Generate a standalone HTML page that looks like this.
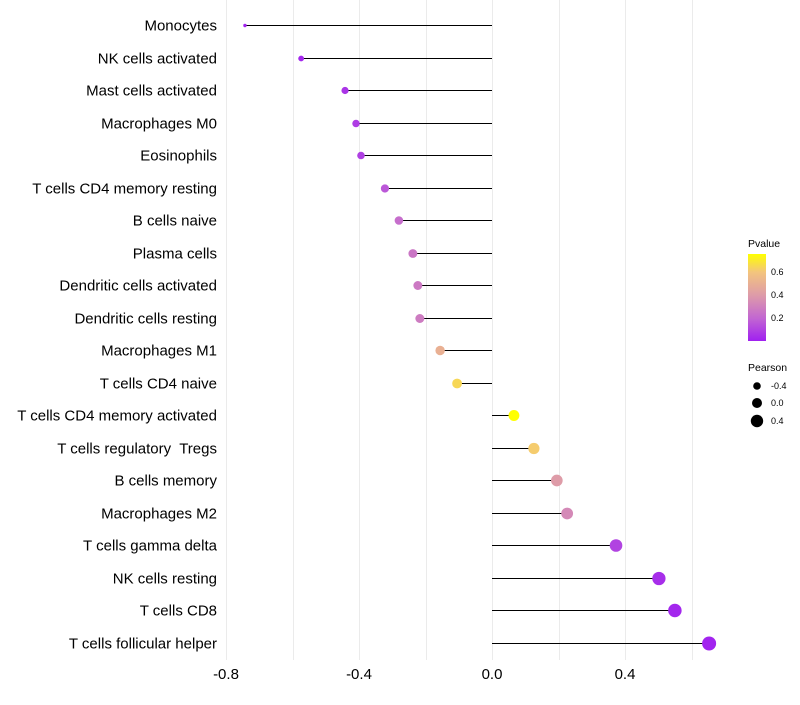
<!DOCTYPE html>
<html><head><meta charset="utf-8"><style>
body{margin:0;background:#fff;font-family:"Liberation Sans",sans-serif}
text{white-space:pre}
</style></head><body>
<svg id="chart" width="800" height="700" xmlns="http://www.w3.org/2000/svg" font-family="Liberation Sans, sans-serif">
<defs><linearGradient id="pg" x1="0" y1="1" x2="0" y2="0">
<stop offset="0" stop-color="#A020F0"/><stop offset="0.26" stop-color="#C266D2"/><stop offset="0.53" stop-color="#DE9CA8"/><stop offset="0.79" stop-color="#F3C47E"/><stop offset="1" stop-color="#FFFF00"/></linearGradient></defs>
<g id="grid"></g><g id="marks"></g><g id="ylabels"></g><g id="xlabels"></g>
<g font-size="10">
<text x="748" y="247" font-size="10.5">Pvalue</text>
<rect x="748" y="254" width="18" height="87" fill="url(#pg)"/>
<text x="771" y="275" font-size="9">0.6</text><text x="771" y="298" font-size="9">0.4</text><text x="771" y="321" font-size="9">0.2</text>
<text x="748" y="371" font-size="10.5">Pearson</text>
<circle cx="757" cy="386" r="3.8" fill="#000"/><text x="771" y="389" font-size="9">-0.4</text>
<circle cx="757" cy="403" r="5" fill="#000"/><text x="771" y="406" font-size="9">0.0</text>
<circle cx="757" cy="421" r="6.2" fill="#000"/><text x="771" y="424" font-size="9">0.4</text>
</g>
</svg>
<script>
const categories=["Monocytes","NK cells activated","Mast cells activated","Macrophages M0","Eosinophils","T cells CD4 memory resting","B cells naive","Plasma cells","Dendritic cells activated","Dendritic cells resting","Macrophages M1","T cells CD4 naive","T cells CD4 memory activated","T cells regulatory  Tregs","B cells memory","Macrophages M2","T cells gamma delta","NK cells resting","T cells CD8","T cells follicular helper"];
const pearson=[-0.743,-0.574,-0.442,-0.409,-0.394,-0.322,-0.280,-0.238,-0.223,-0.217,-0.156,-0.105,0.066,0.126,0.195,0.226,0.373,0.502,0.550,0.653];
const pvalues=[0.01,0.02,0.06,0.08,0.09,0.16,0.23,0.26,0.27,0.28,0.50,0.65,0.76,0.62,0.40,0.33,0.10,0.04,0.02,0.01];
const xTicks=[-0.8,-0.4,0.0,0.4];
const xMinor=[-0.6,-0.2,0.2,0.6];
const NS="http://www.w3.org/2000/svg";
const x=v=>492+v*332.5;
const y=i=>Math.round(25+i*32.5)+0.5;
const stops=[[0,[160,32,240]],[0.2,[194,102,210]],[0.4,[222,156,168]],[0.6,[243,196,126]],[0.757,[255,255,0]]];
function col(p){for(let k=1;k<stops.length;k++){if(p<=stops[k][0]||k==stops.length-1){const a=stops[k-1],b=stops[k];let t=(p-a[0])/(b[0]-a[0]);t=Math.max(0,Math.min(1,t));return"rgb("+a[1].map((c,j)=>Math.round(c+(b[1][j]-c)*t)).join(",")+")";}}}
const rad=v=>Math.sqrt(Math.max(1,2.9+33*(v+0.743)));
function mk(t,a,p){const e=document.createElementNS(NS,t);for(const k in a)e.setAttribute(k,a[k]);p.appendChild(e);return e;}
const g=document.getElementById('grid'),m=document.getElementById('marks'),yl=document.getElementById('ylabels'),xl=document.getElementById('xlabels');
xTicks.concat(xMinor).forEach(v=>{const l=mk('line',{x1:Math.round(x(v))+0.5,x2:Math.round(x(v))+0.5,y1:0,y2:660,stroke:'#ebebeb','stroke-width':1},g);

});
xTicks.forEach(v=>{const t=mk('text',{x:x(v),y:679,'text-anchor':'middle','font-size':15,fill:'#000'},xl);t.textContent=v.toFixed(1);

});
categories.forEach((c,i)=>{const t=mk('text',{x:217,y:y(i)+5,'text-anchor':'end','font-size':15,fill:'#000'},yl);t.textContent=c;


const l=mk('line',{x1:x(0),x2:x(pearson[i]),y1:y(i),y2:y(i),stroke:'#000','stroke-width':1},m);


const d=mk('circle',{cx:x(pearson[i]),cy:y(i),r:rad(pearson[i]),fill:col(pvalues[i])},m);

});
</script>
</body></html>
